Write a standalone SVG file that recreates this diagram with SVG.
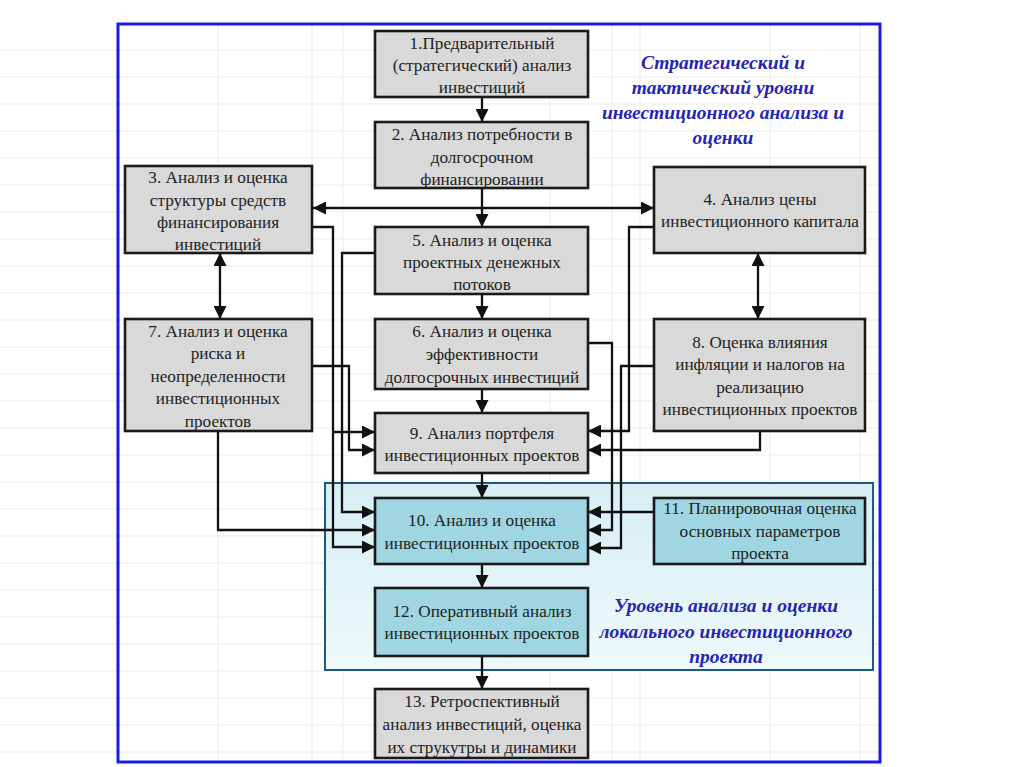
<svg xmlns="http://www.w3.org/2000/svg" width="1024" height="767" viewBox="0 0 1024 767">
<style>
.box{stroke:#1a1a1a;stroke-width:2.6}
.g{fill:#d9d9d9}
.b{fill:#9fd6e1}
.t{font-family:"Liberation Serif","Times New Roman",serif;font-size:17.2px;fill:#222;text-anchor:middle;dominant-baseline:central}
.bt{font-family:"Liberation Serif","Times New Roman",serif;font-size:19.5px;font-weight:bold;font-style:italic;fill:#2525b5;text-anchor:middle;dominant-baseline:central}
.c{fill:none;stroke:#111;stroke-width:2.3}
.grid line{stroke:#ebebeb;stroke-width:1}
</style>
<defs>
<marker id="ah" viewBox="0 0 10 10" refX="10" refY="5" markerWidth="13" markerHeight="13" markerUnits="userSpaceOnUse" orient="auto-start-reverse">
<path d="M0,0 L10,5 L0,10 z" fill="#111"/>
</marker>
<linearGradient id="lg" x1="0" y1="0" x2="0" y2="1">
<stop offset="0" stop-color="#d6eff5"/>
<stop offset="1" stop-color="#eef9fb"/>
</linearGradient>
</defs>
<rect x="0" y="0" width="1024" height="767" fill="#ffffff"/>
<g class="grid">
<line x1="0" y1="50" x2="880" y2="50"/><line x1="0" y1="77" x2="880" y2="77"/><line x1="0" y1="104" x2="880" y2="104"/><line x1="0" y1="131" x2="880" y2="131"/><line x1="0" y1="158" x2="880" y2="158"/><line x1="0" y1="185" x2="880" y2="185"/><line x1="0" y1="212" x2="880" y2="212"/><line x1="0" y1="239" x2="880" y2="239"/><line x1="0" y1="266" x2="880" y2="266"/><line x1="0" y1="293" x2="880" y2="293"/><line x1="0" y1="320" x2="880" y2="320"/><line x1="0" y1="347" x2="880" y2="347"/><line x1="0" y1="374" x2="880" y2="374"/><line x1="0" y1="401" x2="880" y2="401"/><line x1="0" y1="428" x2="880" y2="428"/><line x1="0" y1="455" x2="880" y2="455"/><line x1="0" y1="482" x2="880" y2="482"/><line x1="0" y1="509" x2="880" y2="509"/><line x1="0" y1="536" x2="880" y2="536"/><line x1="0" y1="563" x2="880" y2="563"/><line x1="0" y1="590" x2="880" y2="590"/><line x1="0" y1="617" x2="880" y2="617"/><line x1="0" y1="644" x2="880" y2="644"/><line x1="0" y1="671" x2="880" y2="671"/><line x1="0" y1="698" x2="880" y2="698"/><line x1="0" y1="725" x2="880" y2="725"/><line x1="0" y1="752" x2="880" y2="752"/>
<line x1="218" y1="24" x2="218" y2="762"/><line x1="312" y1="24" x2="312" y2="762"/><line x1="343" y1="24" x2="343" y2="762"/><line x1="550" y1="24" x2="550" y2="762"/><line x1="612" y1="24" x2="612" y2="762"/><line x1="640" y1="24" x2="640" y2="762"/><line x1="770" y1="24" x2="770" y2="762"/><line x1="860" y1="24" x2="860" y2="762"/>
</g>
<rect x="118" y="24" width="762" height="738" fill="none" stroke="#1c1ce0" stroke-width="3"/>
<g id="local-level">
<rect x="325" y="483" width="548" height="187" fill="url(#lg)" stroke="#1d5a7c" stroke-width="2"/>
<text class="bt" x="726" y="605">Уровень анализа и оценки</text>
<text class="bt" x="726" y="631">локального инвестиционного</text>
<text class="bt" x="726" y="656">проекта</text>
</g>
<g id="title">
<text class="bt" x="723" y="62">Стратегический и</text>
<text class="bt" x="723" y="87">тактический уровни</text>
<text class="bt" x="723" y="112">инвестиционного анализа и</text>
<text class="bt" x="723" y="137">оценки</text>
</g>
<g id="connectors">
<path class="c" d="M482,97 V122" marker-end="url(#ah)"/>
<path class="c" d="M482,188 V227" marker-end="url(#ah)"/>
<path class="c" d="M482,294 V319" marker-end="url(#ah)"/>
<path class="c" d="M482,389 V413" marker-end="url(#ah)"/>
<path class="c" d="M482,473 V498" marker-end="url(#ah)"/>
<path class="c" d="M482,564 V588" marker-end="url(#ah)"/>
<path class="c" d="M482,656 V689" marker-end="url(#ah)"/>
<path class="c" d="M313,208 H654" marker-start="url(#ah)" marker-end="url(#ah)"/>
<path class="c" d="M220,253 V319" marker-start="url(#ah)" marker-end="url(#ah)"/>
<path class="c" d="M758,253 V319" marker-start="url(#ah)" marker-end="url(#ah)"/>
<path class="c" d="M312,227 H333 V547 H375" marker-end="url(#ah)"/>
<path class="c" d="M333,432 H375" marker-end="url(#ah)"/>
<path class="c" d="M375,253 H342 V512 H375" marker-end="url(#ah)"/>
<path class="c" d="M312,366 H349 V450 H375" marker-end="url(#ah)"/>
<path class="c" d="M218,431 V530 H375" marker-end="url(#ah)"/>
<path class="c" d="M654,227 H629 V431 H588" marker-end="url(#ah)"/>
<path class="c" d="M760,431 V450 H588" marker-end="url(#ah)"/>
<path class="c" d="M588,343 H612 V530 H588" marker-end="url(#ah)"/>
<path class="c" d="M654,366 H621 V548 H588" marker-end="url(#ah)"/>
<path class="c" d="M654,512 H588" marker-end="url(#ah)"/>
</g>
<g id="n1"><rect class="box g" x="375" y="31" width="213" height="66"/>
<text class="t" x="482" y="43">1.Предварительный</text><text class="t" x="482" y="65">(стратегический) анализ</text><text class="t" x="482" y="87">инвестиций</text></g>
<g id="n2"><rect class="box g" x="375" y="122" width="213" height="66"/>
<text class="t" x="482" y="134">2. Анализ потребности в</text><text class="t" x="482" y="157">долгосрочном</text><text class="t" x="482" y="179">финансировании</text></g>
<g id="n3"><rect class="box g" x="125" y="166" width="187" height="87"/>
<text class="t" x="218" y="177">3. Анализ и оценка</text><text class="t" x="218" y="200">структуры средств</text><text class="t" x="218" y="222">финансирования</text><text class="t" x="218" y="244">инвестиций</text></g>
<g id="n4"><rect class="box g" x="654" y="167" width="211" height="86"/>
<text class="t" x="760" y="199">4. Анализ цены</text><text class="t" x="760" y="221">инвестиционного капитала</text></g>
<g id="n5"><rect class="box g" x="375" y="227" width="213" height="67"/>
<text class="t" x="482" y="240">5. Анализ и оценка</text><text class="t" x="482" y="262">проектных денежных</text><text class="t" x="482" y="284">потоков</text></g>
<g id="n6"><rect class="box g" x="375" y="319" width="213" height="70"/>
<text class="t" x="482" y="331">6. Анализ и оценка</text><text class="t" x="482" y="354">эффективности</text><text class="t" x="482" y="377">долгосрочных инвестиций</text></g>
<g id="n7"><rect class="box g" x="125" y="319" width="187" height="112"/>
<text class="t" x="218" y="331">7. Анализ и оценка</text><text class="t" x="218" y="353">риска и</text><text class="t" x="218" y="376">неопределенности</text><text class="t" x="218" y="398">инвестиционных</text><text class="t" x="218" y="421">проектов</text></g>
<g id="n8"><rect class="box g" x="654" y="319" width="211" height="112"/>
<text class="t" x="760" y="342">8. Оценка влияния</text><text class="t" x="760" y="364">инфляции и налогов на</text><text class="t" x="760" y="387">реализацию</text><text class="t" x="760" y="409">инвестиционных проектов</text></g>
<g id="n9"><rect class="box g" x="375" y="413" width="213" height="60"/>
<text class="t" x="482" y="433">9. Анализ портфеля</text><text class="t" x="482" y="455">инвестиционных проектов</text></g>
<g id="n10"><rect class="box b" x="375" y="498" width="213" height="66"/>
<text class="t" x="482" y="520">10. Анализ и оценка</text><text class="t" x="482" y="543">инвестиционных проектов</text></g>
<g id="n11"><rect class="box b" x="654" y="498" width="211" height="66"/>
<text class="t" x="760" y="508">11. Планировочная оценка</text><text class="t" x="760" y="531">основных параметров</text><text class="t" x="760" y="553">проекта</text></g>
<g id="n12"><rect class="box b" x="375" y="588" width="213" height="68"/>
<text class="t" x="482" y="611">12. Оперативный анализ</text><text class="t" x="482" y="633">инвестиционных проектов</text></g>
<g id="n13"><rect class="box g" x="375" y="689" width="213" height="69"/>
<text class="t" x="482" y="701">13. Ретроспективный</text><text class="t" x="482" y="724">анализ инвестиций, оценка</text><text class="t" x="482" y="747">их струкутры и динамики</text></g>
</svg>
